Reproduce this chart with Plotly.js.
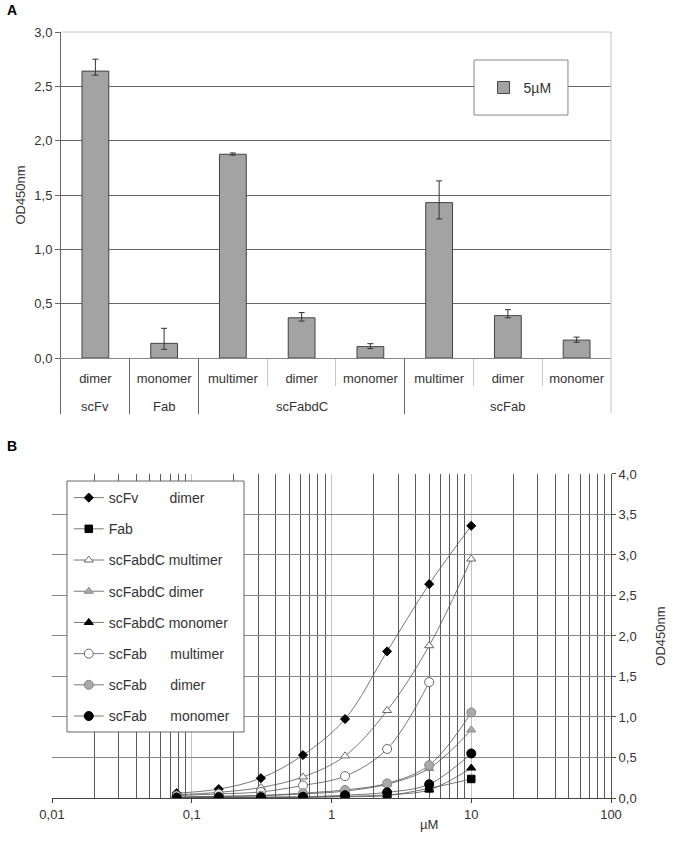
<!DOCTYPE html>
<html><head><meta charset="utf-8">
<script src="https://cdn.plot.ly/plotly-3.0.1.min.js"></script>
<style>html,body{margin:0;padding:0;background:#fff}#chart{width:685px;height:856px}</style>
</head><body><div id="chart"></div>
<script>
// ---------- Panel A data ----------
const groups = ['scFv','Fab','scFabdC','scFabdC','scFabdC','scFab','scFab','scFab'];
const forms  = ['dimer','monomer','multimer','dimer','monomer','multimer','dimer','monomer'];
const od5uM   = [2.64, 0.135, 1.875, 0.37, 0.105, 1.43, 0.39, 0.165];
const errUp   = [0.11, 0.138, 0.012, 0.048, 0.027, 0.20, 0.055, 0.027];
const errDown = [0.037, 0.055, 0.008, 0.03, 0.018, 0.15, 0.02, 0.02];

// ---------- Panel B data ----------
const conc = [0.078, 0.156, 0.3125, 0.625, 1.25, 2.5, 5, 10];
const scFvDimer       = [0.06, 0.11, 0.245, 0.53, 0.975, 1.81, 2.64, 3.36];
const fabMono         = [0.005, 0.005, 0.005, 0.01, 0.015, 0.03, 0.12, 0.235];
const scFabdCMulti    = [0.04, 0.07, 0.13, 0.26, 0.52, 1.08, 1.88, 2.95];
const scFabdCDimer    = [0.01, 0.02, 0.03, 0.05, 0.085, 0.17, 0.365, 0.84];
const scFabdCMono     = [0.005, 0.005, 0.01, 0.01, 0.02, 0.04, 0.10, 0.37];
const scFabMulti      = [0.03, 0.05, 0.075, 0.155, 0.27, 0.605, 1.43, null];
const scFabDimer      = [0.01, 0.02, 0.03, 0.06, 0.10, 0.18, 0.405, 1.055];
const scFabMono       = [0.005, 0.01, 0.01, 0.015, 0.035, 0.07, 0.17, 0.55];
const nb = n => '\u00a0'.repeat(n);
const seriesNames = ['scFv' + nb(8) + 'dimer', 'Fab', 'scFabdC multimer', 'scFabdC dimer',
  'scFabdC monomer', 'scFab' + nb(6) + 'multimer', 'scFab' + nb(6) + 'dimer', 'scFab' + nb(6) + 'monomer'];
const seriesValues = [scFvDimer, fabMono, scFabdCMulti, scFabdCDimer, scFabdCMono, scFabMulti, scFabDimer, scFabMono];
const markerStyles = [
  {symbol:'diamond', size:7, color:'#000', line:{color:'#000', width:1}},
  {symbol:'square', size:7.5, color:'#000', line:{color:'#000', width:1}},
  {symbol:'triangle-up', size:8, color:'#fff', line:{color:'#666', width:1}},
  {symbol:'triangle-up', size:8, color:'#aaa', line:{color:'#888', width:1}},
  {symbol:'triangle-up', size:8, color:'#000', line:{color:'#000', width:1}},
  {symbol:'circle', size:9, color:'#fff', line:{color:'#666', width:1}},
  {symbol:'circle', size:9, color:'#aaa', line:{color:'#888', width:1}},
  {symbol:'circle', size:9, color:'#000', line:{color:'#000', width:1}}
];

// category keys, group spans and separators derived from the arrays
const catKeys = groups.map((g, i) => g + ' ' + forms[i]);
const groupBounds = [], innerBounds = [], groupSpans = [];
for (let i = 0; i < groups.length; i++) {
  if (i === 0 || groups[i] !== groups[i-1]) { groupBounds.push(i - 0.5); groupSpans.push({name:groups[i], start:i, end:i}); }
  else { innerBounds.push(i - 0.5); groupSpans[groupSpans.length-1].end = i; }
}
const nCat = groups.length;

const traces = [];
traces.push({
  type:'bar', x:catKeys, y:od5uM, name:'5µM', xaxis:'x', yaxis:'y', legend:'legend',
  marker:{color:'#a3a3a3', line:{color:'#444', width:1}},
  error_y:{type:'data', symmetric:false, array:errUp, arrayminus:errDown, color:'#333', thickness:1, width:3},
  hoverinfo:'skip'
});
traces.push({type:'scatter', x:[], y:[], xaxis:'x3', yaxis:'y', showlegend:false, hoverinfo:'skip'});
traces.push({type:'scatter', x:[], y:[], xaxis:'x4', yaxis:'y', showlegend:false, hoverinfo:'skip'});
seriesValues.forEach((vals, i) => {
  traces.push({
    type:'scatter', mode:'lines+markers', x:conc, y:vals, name:seriesNames[i],
    xaxis:'x2', yaxis:'y2', legend:'legend2', legendgroup:'g' + i,
    line:{color:'#555', width:0.8, shape:'spline', smoothing:1},
    marker:markerStyles[i], connectgaps:false, hoverinfo:'skip'
  });
});

const xRangeA = [-0.5, nCat - 0.5];
const F = '"Liberation Sans", Arial, sans-serif';
const groupLabelY = (798 - 407) / 766;
const annotations = groupSpans.map(s => ({
  text:s.name, xref:'x', yref:'paper', x:(s.start + s.end) / 2, y:groupLabelY,
  xanchor:'center', yanchor:'middle', showarrow:false, font:{size:13, color:'#333'}
}));
annotations.push(
  {text:'<b>A</b>', xref:'paper', yref:'paper', x:-0.084, y:1.0287, xanchor:'left', yanchor:'middle', showarrow:false, font:{size:14, color:'#000'}},
  {text:'<b>B</b>', xref:'paper', yref:'paper', x:-0.084, y:0.4595, xanchor:'left', yanchor:'middle', showarrow:false, font:{size:14, color:'#000'}},
  {text:'µM', xref:'x2', yref:'paper', x:0.70, y:-0.034, xanchor:'center', yanchor:'middle', showarrow:false, font:{size:13, color:'#333'}}
);

const layout = {
  width:685, height:856,
  margin:{l:52, r:74, t:32, b:58},
  paper_bgcolor:'#fff', plot_bgcolor:'#fff',
  separators:',.',
  font:{family:F, size:13, color:'#333'},
  showlegend:true,
  bargap:0.61,
  xaxis:{type:'category', domain:[0.0161, 1], anchor:'y', range:xRangeA, showline:true, linecolor:'#888', linewidth:1,
    tickmode:'array', tickvals:catKeys, ticktext:forms,
    ticks:'outside', ticklen:8, tickcolor:'rgba(0,0,0,0)', showgrid:false, zeroline:false,
    tickfont:{size:13, color:'#333'}},
  xaxis3:{overlaying:'x', anchor:'y', range:xRangeA, tickmode:'array', tickvals:groupBounds,
    ticks:'outside', ticklen:55, tickcolor:'#666', tickwidth:1, showticklabels:false,
    showgrid:false, zeroline:false, showline:false},
  xaxis4:{overlaying:'x', anchor:'y', range:xRangeA, tickmode:'array', tickvals:innerBounds,
    ticks:'outside', ticklen:27, tickcolor:'#c8c8c8', tickwidth:1, showticklabels:false,
    showgrid:false, zeroline:false, showline:false},
  yaxis:{domain:[0.5744, 1], anchor:'x', range:[0, 3], tick0:0, dtick:0.5, tickformat:'.1f',
    showgrid:true, gridcolor:'#666', gridwidth:1, showline:true, linecolor:'#666', ticks:'outside',
    ticklen:5, tickcolor:'#666', zeroline:false, tickfont:{size:13, color:'#333'},
    title:{text:'OD450nm', font:{size:13, color:'#333'}, standoff:5}},
  xaxis2:{type:'log', domain:[0, 1], anchor:'y2', range:[-2, 2], tickmode:'linear', tick0:0, dtick:1,
    showgrid:true, gridcolor:'#c4c4c4', gridwidth:1,
    minor:{dtick:'D1', showgrid:true, gridcolor:'#5a5a5a', gridwidth:1, ticks:''},
    showline:true, linecolor:'#444', ticks:'outside', ticklen:4, tickcolor:'#444', zeroline:false,
    tickfont:{size:13, color:'#333'}},
  yaxis2:{domain:[0, 0.4230], anchor:'x2', side:'right', range:[0, 4], tick0:0, dtick:0.5, tickformat:'.1f',
    showgrid:true, gridcolor:'#888', gridwidth:1, showline:true, linecolor:'#555', ticks:'outside',
    ticklen:4, tickcolor:'#555', zeroline:false, tickfont:{size:13, color:'#333'},
    title:{text:'OD450nm', font:{size:13, color:'#333'}, standoff:20}},
  legend:{x:0.772, xanchor:'left', y:0.927, yanchor:'middle', bgcolor:'rgba(0,0,0,0)', borderwidth:0,
    font:{size:14, color:'#333'}, itemwidth:30},
  legend2:{x:0.03, xanchor:'left', y:0.4125, yanchor:'top', bgcolor:'rgba(0,0,0,0)', borderwidth:0,
    font:{size:14, color:'#333'}, tracegroupgap:10, itemwidth:30, traceorder:'grouped'},
  shapes:[
    {type:'line', xref:'paper', yref:'paper', x0:0.0161, x1:1, y0:1, y1:1, line:{color:'#c4c4c4', width:1}, layer:'above'},
    {type:'line', xref:'paper', yref:'paper', x0:1, x1:1, y0:0.5026, y1:1, line:{color:'#c4c4c4', width:1}, layer:'above'},
    {type:'rect', xref:'paper', yref:'paper', x0:0.755, x1:0.923, y0:0.8916, y1:0.9634, fillcolor:'#fff', line:{color:'#888', width:1}, layer:'above'},
    {type:'rect', xref:'paper', yref:'paper', x0:0.0268, x1:0.3435, y0:0.0862, y1:0.4138, fillcolor:'#fff', line:{color:'#666', width:1}, layer:'above'}
  ],
  annotations:annotations
};
Plotly.newPlot('chart', traces, layout, {staticPlot:true, displayModeBar:false});
</script>
</body></html>
